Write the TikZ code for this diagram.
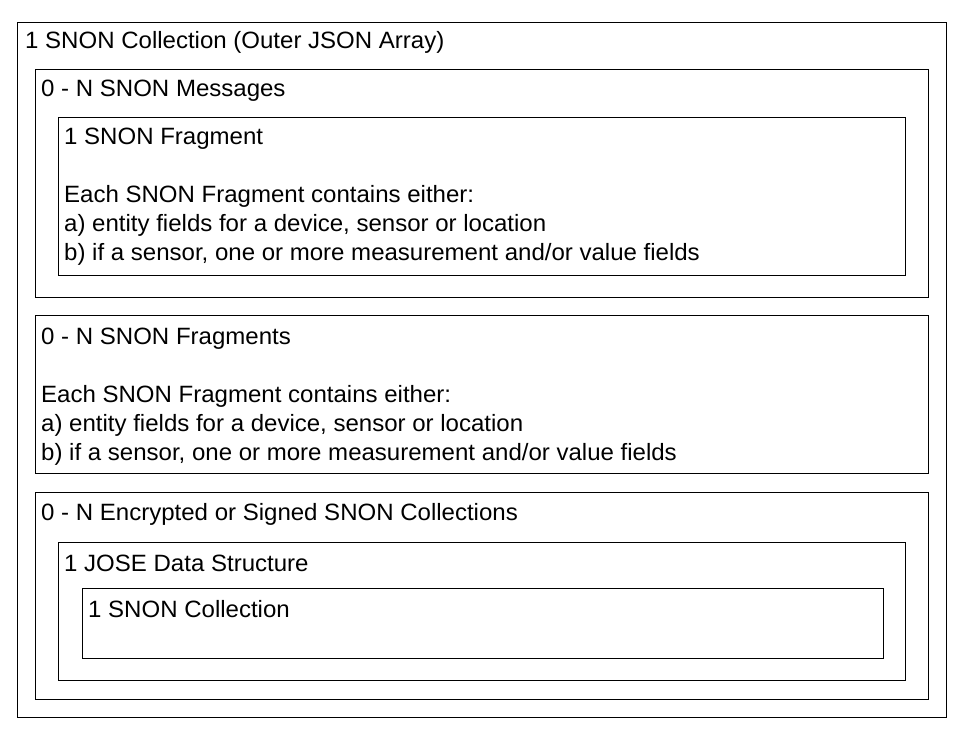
\documentclass[tikz,border=0pt]{standalone}
\usepackage{fontspec}
\setmainfont{Liberation Sans}
\newcommand{\widetext}[1]{\scalebox{1.018}[1]{#1}}
\begin{document}
\begin{tikzpicture}[x=1pt,y=-1pt,
  box/.style={draw=black,line width=0.9pt},
  lbl/.style={anchor=base west,inner sep=0pt,font=\fontsize{23.6}{29}\selectfont}]
\useasboundingbox (0,0) rectangle (964,738);
% nested containers
\draw[box] (17,22) rectangle (946,717);
\draw[box] (35,69) rectangle (928,297);
\draw[box] (58,117) rectangle (905,275);
\draw[box] (35,315) rectangle (928,473);
\draw[box] (35,492) rectangle (928,699);
\draw[box] (58,542) rectangle (905,680);
\draw[box] (82,588) rectangle (883,658);
% labels
\node[lbl] (t1) at (25,49) {\widetext{1 SNON Collection (Outer JSON Array)}};
\node[lbl] (t2) at (41,97) {\widetext{0 - N SNON Messages}};
\node[lbl] (t3) at (64,145) {\widetext{1 SNON Fragment}};
\node[lbl] (t4) at (64,203) {\widetext{Each SNON Fragment contains either:}};
\node[lbl] (t5) at (64,232) {\widetext{a) entity fields for a device, sensor or location}};
\node[lbl] (t6) at (64,261) {\widetext{b) if a sensor, one or more measurement and/or value fields}};
\node[lbl] (t7) at (41,344) {\widetext{0 - N SNON Fragments}};
\node[lbl] (t8) at (41,402) {\widetext{Each SNON Fragment contains either:}};
\node[lbl] (t9) at (41,431) {\widetext{a) entity fields for a device, sensor or location}};
\node[lbl] (t10) at (41,460) {\widetext{b) if a sensor, one or more measurement and/or value fields}};
\node[lbl] (t11) at (41,520) {\widetext{0 - N Encrypted or Signed SNON Collections}};
\node[lbl] (t12) at (64,571) {\widetext{1 JOSE Data Structure}};
\node[lbl] (t13) at (88,617) {\widetext{1 SNON Collection}};
\end{tikzpicture}
\end{document}
